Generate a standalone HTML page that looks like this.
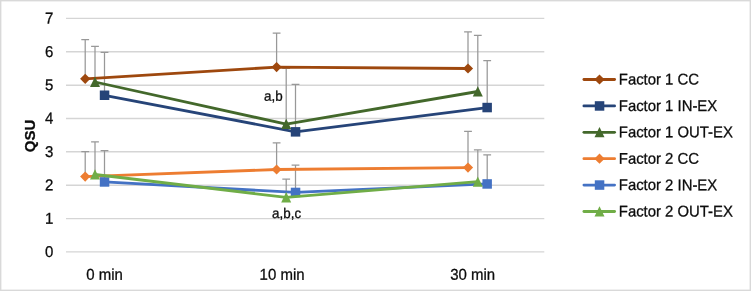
<!DOCTYPE html>
<html><head><meta charset="utf-8"><title>chart</title>
<style>html,body{margin:0;padding:0;background:#fff;}svg{display:block;will-change:transform;}text{font-family:"Liberation Sans",sans-serif;fill:#0c0c0c;stroke:#0c0c0c;stroke-width:0.28px;}</style></head><body>
<svg width="751" height="291" viewBox="0 0 751 291">
<rect x="0" y="0" width="751" height="291" fill="#fff"/>
<rect x="0.7" y="0.7" width="749.6" height="289.6" fill="none" stroke="#d9d9d9" stroke-width="1.4"/>
<line x1="66" y1="251.9" x2="544.3" y2="251.9" stroke="#d5d5d5" stroke-width="1.4"/>
<text transform="translate(53.30,257.00) scale(1,1.045) rotate(0.03)" font-size="15" text-anchor="end">0</text>
<line x1="66" y1="218.6" x2="544.3" y2="218.6" stroke="#d5d5d5" stroke-width="1.4"/>
<text transform="translate(53.30,223.65) scale(1,1.045) rotate(0.03)" font-size="15" text-anchor="end">1</text>
<line x1="66" y1="185.2" x2="544.3" y2="185.2" stroke="#d5d5d5" stroke-width="1.4"/>
<text transform="translate(53.30,190.30) scale(1,1.045) rotate(0.03)" font-size="15" text-anchor="end">2</text>
<line x1="66" y1="151.8" x2="544.3" y2="151.8" stroke="#d5d5d5" stroke-width="1.4"/>
<text transform="translate(53.30,156.95) scale(1,1.045) rotate(0.03)" font-size="15" text-anchor="end">3</text>
<line x1="66" y1="118.5" x2="544.3" y2="118.5" stroke="#d5d5d5" stroke-width="1.4"/>
<text transform="translate(53.30,123.60) scale(1,1.045) rotate(0.03)" font-size="15" text-anchor="end">4</text>
<line x1="66" y1="85.2" x2="544.3" y2="85.2" stroke="#d5d5d5" stroke-width="1.4"/>
<text transform="translate(53.30,90.25) scale(1,1.045) rotate(0.03)" font-size="15" text-anchor="end">5</text>
<line x1="66" y1="51.8" x2="544.3" y2="51.8" stroke="#d5d5d5" stroke-width="1.4"/>
<text transform="translate(53.30,56.90) scale(1,1.045) rotate(0.03)" font-size="15" text-anchor="end">6</text>
<line x1="66" y1="18.4" x2="544.3" y2="18.4" stroke="#d5d5d5" stroke-width="1.4"/>
<text transform="translate(53.30,23.55) scale(1,1.045) rotate(0.03)" font-size="15" text-anchor="end">7</text>
<path d="M85.2,78.8V39.7M81.3,39.7H89.1" stroke="#989898" stroke-width="1.25" fill="none"/>
<path d="M276.6,67.1V33.2M272.7,33.2H280.5" stroke="#989898" stroke-width="1.25" fill="none"/>
<path d="M468.0,68.5V31.8M464.1,31.8H471.9" stroke="#989898" stroke-width="1.25" fill="none"/>
<path d="M104.5,95.3V52.4M100.6,52.4H108.4" stroke="#989898" stroke-width="1.25" fill="none"/>
<path d="M295.5,131.8V84.4M291.6,84.4H299.4" stroke="#989898" stroke-width="1.25" fill="none"/>
<path d="M487.2,107.6V60.5M483.3,60.5H491.1" stroke="#989898" stroke-width="1.25" fill="none"/>
<path d="M95.0,82.0V46.3M91.1,46.3H98.9" stroke="#989898" stroke-width="1.25" fill="none"/>
<path d="M286.2,124.1V68.3M282.3,68.3H290.1" stroke="#989898" stroke-width="1.25" fill="none"/>
<path d="M477.8,91.5V35.4M473.9,35.4H481.7" stroke="#989898" stroke-width="1.25" fill="none"/>
<path d="M85.2,176.6V151.5M81.3,151.5H89.1" stroke="#989898" stroke-width="1.25" fill="none"/>
<path d="M276.6,169.5V142.9M272.7,142.9H280.5" stroke="#989898" stroke-width="1.25" fill="none"/>
<path d="M468.0,167.6V131.4M464.1,131.4H471.9" stroke="#989898" stroke-width="1.25" fill="none"/>
<path d="M104.5,181.9V150.7M100.6,150.7H108.4" stroke="#989898" stroke-width="1.25" fill="none"/>
<path d="M295.5,192.4V165.2M291.6,165.2H299.4" stroke="#989898" stroke-width="1.25" fill="none"/>
<path d="M487.2,183.9V154.8M483.3,154.8H491.1" stroke="#989898" stroke-width="1.25" fill="none"/>
<path d="M95.0,174.5V141.8M91.1,141.8H98.9" stroke="#989898" stroke-width="1.25" fill="none"/>
<path d="M286.2,197.4V179.2M282.3,179.2H290.1" stroke="#989898" stroke-width="1.25" fill="none"/>
<path d="M477.8,181.7V149.8M473.9,149.8H481.7" stroke="#989898" stroke-width="1.25" fill="none"/>
<polyline points="85.2,78.8 276.6,67.1 468.0,68.5" fill="none" stroke="#9E480E" stroke-width="2.8" stroke-linejoin="round" stroke-linecap="round"/>
<path d="M80.1,78.8L85.2,73.7L90.3,78.8L85.2,83.9Z" fill="#9E480E"/>
<path d="M271.5,67.1L276.6,62.0L281.7,67.1L276.6,72.2Z" fill="#9E480E"/>
<path d="M462.9,68.5L468.0,63.4L473.1,68.5L468.0,73.6Z" fill="#9E480E"/>
<polyline points="104.5,95.3 295.5,131.8 487.2,107.6" fill="none" stroke="#264478" stroke-width="2.8" stroke-linejoin="round" stroke-linecap="round"/>
<rect x="99.8" y="90.5" width="9.5" height="9.5" fill="#264478"/>
<rect x="290.8" y="127.1" width="9.5" height="9.5" fill="#264478"/>
<rect x="482.4" y="102.8" width="9.5" height="9.5" fill="#264478"/>
<polyline points="95.0,82.0 286.2,124.1 477.8,91.5" fill="none" stroke="#43682B" stroke-width="2.8" stroke-linejoin="round" stroke-linecap="round"/>
<path d="M95.00,76.70L100.00,87.00L90.00,87.00Z" fill="#43682B"/>
<path d="M286.20,118.80L291.20,129.10L281.20,129.10Z" fill="#43682B"/>
<path d="M477.80,86.20L482.80,96.50L472.80,96.50Z" fill="#43682B"/>
<polyline points="85.2,176.6 276.6,169.5 468.0,167.6" fill="none" stroke="#ED7D31" stroke-width="2.8" stroke-linejoin="round" stroke-linecap="round"/>
<path d="M80.1,176.6L85.2,171.5L90.3,176.6L85.2,181.7Z" fill="#ED7D31"/>
<path d="M271.5,169.5L276.6,164.4L281.7,169.5L276.6,174.6Z" fill="#ED7D31"/>
<path d="M462.9,167.6L468.0,162.5L473.1,167.6L468.0,172.7Z" fill="#ED7D31"/>
<polyline points="104.5,181.9 295.5,192.4 487.2,183.9" fill="none" stroke="#4472C4" stroke-width="2.8" stroke-linejoin="round" stroke-linecap="round"/>
<rect x="99.8" y="177.2" width="9.5" height="9.5" fill="#4472C4"/>
<rect x="290.8" y="187.7" width="9.5" height="9.5" fill="#4472C4"/>
<rect x="482.4" y="179.2" width="9.5" height="9.5" fill="#4472C4"/>
<polyline points="95.0,174.5 286.2,197.4 477.8,181.7" fill="none" stroke="#70AD47" stroke-width="2.8" stroke-linejoin="round" stroke-linecap="round"/>
<path d="M95.00,169.20L100.00,179.50L90.00,179.50Z" fill="#70AD47"/>
<path d="M286.20,192.10L291.20,202.40L281.20,202.40Z" fill="#70AD47"/>
<path d="M477.80,176.40L482.80,186.70L472.80,186.70Z" fill="#70AD47"/>
<text transform="translate(86.30,279.70) scale(1,1.045) rotate(0.03)" font-size="15" text-anchor="start">0 min</text>
<text transform="translate(259.60,279.70) scale(1,1.045) rotate(0.03)" font-size="15" text-anchor="start">10 min</text>
<text transform="translate(450.20,279.70) scale(1,1.045) rotate(0.03)" font-size="15" text-anchor="start">30 min</text>
<text transform="translate(264.00,100.80) scale(1,1.045) rotate(0.03)" font-size="13.4" text-anchor="start">a,b</text>
<text transform="translate(272.10,217.90) scale(1,1.045) rotate(0.03)" font-size="13.4" text-anchor="start">a,b,c</text>
<text transform="translate(35.2,136) rotate(-90)" font-size="15" font-weight="bold" text-anchor="middle" stroke="#0c0c0c" stroke-width="0.45">QSU</text>
<line x1="583.9" y1="79.5" x2="614.6" y2="79.5" stroke="#9E480E" stroke-width="2.8" stroke-linecap="round"/>
<path d="M594.4,79.5L599.5,74.4L604.6,79.5L599.5,84.6Z" fill="#9E480E"/>
<text transform="translate(618.80,84.50) scale(1,1.045) rotate(0.03)" font-size="14.9" text-anchor="start">Factor 1 CC</text>
<line x1="583.9" y1="105.9" x2="614.6" y2="105.9" stroke="#264478" stroke-width="2.8" stroke-linecap="round"/>
<rect x="594.8" y="101.2" width="9.5" height="9.5" fill="#264478"/>
<text transform="translate(618.80,110.90) scale(1,1.045) rotate(0.03)" font-size="14.9" text-anchor="start">Factor 1 IN-EX</text>
<line x1="583.9" y1="132.3" x2="614.6" y2="132.3" stroke="#43682B" stroke-width="2.8" stroke-linecap="round"/>
<path d="M599.50,127.00L604.50,137.30L594.50,137.30Z" fill="#43682B"/>
<text transform="translate(618.80,137.30) scale(1,1.045) rotate(0.03)" font-size="14.9" text-anchor="start">Factor 1 OUT-EX</text>
<line x1="583.9" y1="158.7" x2="614.6" y2="158.7" stroke="#ED7D31" stroke-width="2.8" stroke-linecap="round"/>
<path d="M594.4,158.7L599.5,153.6L604.6,158.7L599.5,163.8Z" fill="#ED7D31"/>
<text transform="translate(618.80,163.70) scale(1,1.045) rotate(0.03)" font-size="14.9" text-anchor="start">Factor 2 CC</text>
<line x1="583.9" y1="185.1" x2="614.6" y2="185.1" stroke="#4472C4" stroke-width="2.8" stroke-linecap="round"/>
<rect x="594.8" y="180.3" width="9.5" height="9.5" fill="#4472C4"/>
<text transform="translate(618.80,190.10) scale(1,1.045) rotate(0.03)" font-size="14.9" text-anchor="start">Factor 2 IN-EX</text>
<line x1="583.9" y1="211.5" x2="614.6" y2="211.5" stroke="#70AD47" stroke-width="2.8" stroke-linecap="round"/>
<path d="M599.50,206.20L604.50,216.50L594.50,216.50Z" fill="#70AD47"/>
<text transform="translate(618.80,216.50) scale(1,1.045) rotate(0.03)" font-size="14.9" text-anchor="start">Factor 2 OUT-EX</text>
</svg></body></html>
